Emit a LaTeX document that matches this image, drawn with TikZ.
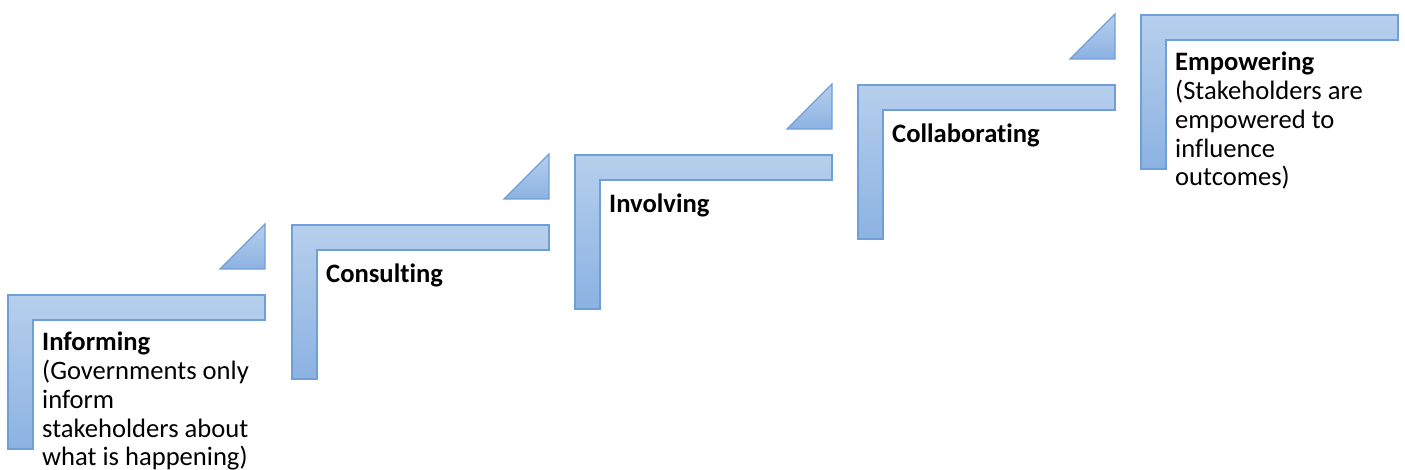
\documentclass[tikz,border=0pt]{standalone}
\usepackage{fontspec}
\setmainfont{Carlito}[Ligatures=NoCommon]
\usetikzlibrary{positioning}

\definecolor{stepline}{HTML}{6F9FD8}
\definecolor{steptop}{HTML}{B6CFEC}
\definecolor{stepbottom}{HTML}{8CB2E2}

\tikzset{
  stepfill/.style={draw=stepline,line width=1.2pt,top color=steptop,bottom color=stepbottom},
  steptext/.style={anchor=north west,inner sep=0,align=left,font=\fontsize{26.6}{28.75}\selectfont,execute at begin node=\strut}
}

\begin{document}
\begin{tikzpicture}[x=1pt,y=-1pt]
        \useasboundingbox (0,0) rectangle (1405,470);
        \foreach \x/\y/\t [count=\i] in {8/295/{\textbf{Informing}\\(Governments only\\inform\\stakeholders about\\what is happening)},292/225/{\textbf{Consulting}},575/155/{\textbf{Involving}},858/85/{\textbf{Collaborating}},1141/15/{\textbf{Empowering}\\(Stakeholders are\\empowered to\\influence\\outcomes)}} {
            \draw [stepfill] (\x,\y) -- ++(257,0) -- ++(0,25) -- ++(-232,0) -- ++(0,129) -- ++(-25,0) -- cycle; % step
            \node [steptext] (step\i) at (\x+34,\y+36.9) {\t};
        }
        \foreach \x/\y in {8/295,292/225,575/155,858/85} {
            \draw [stepfill] (\x+257,\y-71) -- ++(0,45) -- ++(-45,0) -- cycle; % riser
        }
\end{tikzpicture}
\end{document}
